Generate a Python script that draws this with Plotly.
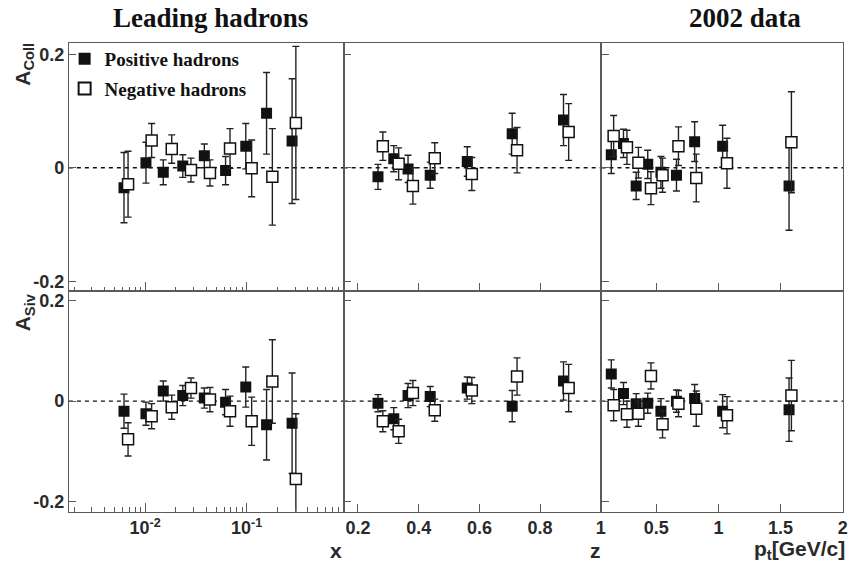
import plotly.graph_objects as go

# ---------------- data ----------------
# Collins asymmetry vs x
coll_x_pos_x = [0.0062, 0.0102, 0.0151, 0.0235, 0.0383, 0.062, 0.098, 0.157, 0.28]
coll_x_pos_y = [-0.035, 0.009, -0.008, 0.003, 0.021, -0.005, 0.038, 0.096, 0.047]
coll_x_pos_e = [0.062, 0.036, 0.022, 0.020, 0.021, 0.025, 0.040, 0.072, 0.110]
coll_x_neg_x = [0.0068, 0.0116, 0.0183, 0.0283, 0.0435, 0.0686, 0.112, 0.179, 0.305]
coll_x_neg_y = [-0.029, 0.048, 0.033, -0.004, -0.009, 0.034, -0.001, -0.016, 0.079]
coll_x_neg_e = [0.058, 0.030, 0.025, 0.021, 0.023, 0.035, 0.050, 0.085, 0.135]

# Sivers asymmetry vs x
siv_x_pos_y = [-0.020, -0.025, 0.020, 0.011, 0.006, -0.002, 0.028, -0.047, -0.044]
siv_x_pos_e = [0.034, 0.023, 0.020, 0.020, 0.020, 0.025, 0.040, 0.070, 0.100]
siv_x_neg_y = [-0.076, -0.030, -0.012, 0.026, 0.003, -0.020, -0.040, 0.039, -0.155]
siv_x_neg_e = [0.033, 0.025, 0.024, 0.020, 0.024, 0.030, 0.048, 0.083, 0.130]

# Collins asymmetry vs z
coll_z_pos_x = [0.266, 0.318, 0.365, 0.438, 0.560, 0.708, 0.877]
coll_z_pos_y = [-0.016, 0.016, -0.002, -0.013, 0.011, 0.060, 0.084]
coll_z_pos_e = [0.022, 0.023, 0.024, 0.023, 0.026, 0.036, 0.045]
coll_z_neg_x = [0.282, 0.334, 0.381, 0.453, 0.575, 0.724, 0.894]
coll_z_neg_y = [0.038, 0.007, -0.032, 0.017, -0.011, 0.031, 0.063]
coll_z_neg_e = [0.025, 0.028, 0.032, 0.027, 0.029, 0.040, 0.050]

# Sivers asymmetry vs z
siv_z_pos_y = [-0.004, -0.035, 0.011, 0.009, 0.026, -0.010, 0.040]
siv_z_pos_e = [0.017, 0.022, 0.024, 0.020, 0.022, 0.031, 0.038]
siv_z_neg_y = [-0.040, -0.060, 0.016, -0.018, 0.021, 0.049, 0.026]
siv_z_neg_e = [0.021, 0.024, 0.025, 0.022, 0.026, 0.037, 0.047]

# Collins asymmetry vs pt
coll_pt_pos_x = [0.139, 0.237, 0.339, 0.432, 0.538, 0.663, 0.809, 1.034, 1.568]
coll_pt_pos_y = [0.023, 0.043, -0.032, 0.006, -0.008, -0.013, 0.046, 0.038, -0.032]
coll_pt_pos_e = [0.033, 0.025, 0.024, 0.025, 0.028, 0.028, 0.035, 0.037, 0.078]
coll_pt_neg_x = [0.158, 0.265, 0.357, 0.458, 0.551, 0.679, 0.822, 1.069, 1.587]
coll_pt_neg_y = [0.056, 0.036, 0.009, -0.036, -0.013, 0.038, -0.018, 0.008, 0.045]
coll_pt_neg_e = [0.036, 0.030, 0.027, 0.029, 0.030, 0.034, 0.042, 0.044, 0.089]

# Sivers asymmetry vs pt
siv_pt_pos_y = [0.054, 0.015, -0.005, -0.004, -0.020, 0.000, 0.005, -0.020, -0.017]
siv_pt_pos_e = [0.028, 0.022, 0.020, 0.020, 0.025, 0.022, 0.028, 0.033, 0.063]
siv_pt_neg_y = [-0.008, -0.026, -0.025, 0.050, -0.046, -0.005, -0.015, -0.028, 0.011]
siv_pt_neg_e = [0.031, 0.026, 0.025, 0.026, 0.027, 0.026, 0.035, 0.037, 0.070]

# axis ticks / labels
y_tickvals = [-0.2, 0, 0.2]
y_ticktext = ["<b>-0.2</b>", "<b>0</b>", "<b>0.2</b>"]
x_log_tickvals = [0.01, 0.1]
x_log_ticktext = ["<b>10<sup>-2</sup></b>", "<b>10<sup>-1</sup></b>"]
x_log_minor = [m * d for d in (0.001, 0.01, 0.1) for m in range(2, 10)]
z_tickvals = [0.2, 0.4, 0.6, 0.8, 1.0]
z_ticktext = ["<b>0.2</b>", "<b>0.4</b>", "<b>0.6</b>", "<b>0.8</b>", "<b>1</b>"]
pt_tickvals = [0.5, 1.0, 1.5, 2.0]
pt_ticktext = ["<b>0.5</b>", "<b>1</b>", "<b>1.5</b>", "<b>2</b>"]

# ---------------- figure ----------------
W, H = 854, 565
AX = "#5a5a5a"
INK = "#111111"
TXT = "#2a2a2a"
SANS = "Liberation Sans, Arial, sans-serif"
SERIF = "Liberation Serif, Times New Roman, serif"

xdoms_px = [(69.3, 345.7), (345.7, 605.0), (605.0, 848.0)]
ydoms_px = [(42.0, 291.0), (291.0, 511.7)]

def xdom(i):
    a, b = xdoms_px[i]
    return [a / W, b / W]

def ydom(j):
    a, b = ydoms_px[j]
    return [1 - b / H, 1 - a / H]

fig = go.Figure()

panels = [
    (0, 0, coll_x_pos_x, coll_x_pos_y, coll_x_pos_e, coll_x_neg_x, coll_x_neg_y, coll_x_neg_e),
    (0, 1, coll_z_pos_x, coll_z_pos_y, coll_z_pos_e, coll_z_neg_x, coll_z_neg_y, coll_z_neg_e),
    (0, 2, coll_pt_pos_x, coll_pt_pos_y, coll_pt_pos_e, coll_pt_neg_x, coll_pt_neg_y, coll_pt_neg_e),
    (1, 0, coll_x_pos_x, siv_x_pos_y, siv_x_pos_e, coll_x_neg_x, siv_x_neg_y, siv_x_neg_e),
    (1, 1, coll_z_pos_x, siv_z_pos_y, siv_z_pos_e, coll_z_neg_x, siv_z_neg_y, siv_z_neg_e),
    (1, 2, coll_pt_pos_x, siv_pt_pos_y, siv_pt_pos_e, coll_pt_neg_x, siv_pt_neg_y, siv_pt_neg_e),
]

layout_axes = {}
shapes = []
for k, (r, c, px, py, pe, nx, ny, ne) in enumerate(panels):
    n = k + 1
    xa = "x" if n == 1 else f"x{n}"
    ya = "y" if n == 1 else f"y{n}"
    err_common = dict(type="data", color="#222222", thickness=1.4, width=3.5, visible=True)
    fig.add_trace(go.Scatter(
        x=px, y=py, mode="markers", name="Positive hadrons",
        legendgroup="pos", showlegend=(n == 1),
        marker=dict(symbol="square", size=11, color=INK, line=dict(width=0)),
        error_y=dict(array=pe, **err_common),
        xaxis=xa, yaxis=ya))
    fig.add_trace(go.Scatter(
        x=nx, y=ny, mode="markers", name="Negative hadrons",
        legendgroup="neg", showlegend=(n == 1),
        marker=dict(symbol="square", size=11, color="white", line=dict(width=1.5, color=INK)),
        error_y=dict(array=ne, **err_common),
        xaxis=xa, yaxis=ya))

    xkey = "xaxis" if n == 1 else f"xaxis{n}"
    ykey = "yaxis" if n == 1 else f"yaxis{n}"
    show_x_labels = (r == 1)
    common_x = dict(domain=xdom(c), anchor=ya, showline=True, mirror=True,
                    linecolor=AX, linewidth=1.1, showgrid=False, zeroline=False,
                    ticks="inside", tickcolor=AX, tickwidth=1.2,
                    showticklabels=show_x_labels,
                    tickfont=dict(family=SANS, size=18, color=TXT))
    if c == 0:
        common_x.update(type="log", range=[-2.75, -0.045], tickmode="array",
                        tickvals=x_log_tickvals, ticktext=x_log_ticktext, ticklen=9,
                        minor=dict(tickmode="array", tickvals=x_log_minor, ticks="inside",
                                   ticklen=4.5, tickcolor=AX, tickwidth=1.1))
    elif c == 1:
        common_x.update(range=[0.153, 1.002], tickmode="array",
                        tickvals=z_tickvals, ticktext=z_ticktext, ticklen=8)
    else:
        common_x.update(range=[0.06, 2.002], tickmode="array",
                        tickvals=pt_tickvals, ticktext=pt_ticktext, ticklen=8)
    layout_axes[xkey] = common_x

    yr = [-0.218, 0.22] if r == 0 else [-0.22, 0.218]
    layout_axes[ykey] = dict(domain=ydom(r), anchor=xa, range=yr, showline=True, mirror=True,
                             linecolor=AX, linewidth=1.1, showgrid=False, zeroline=False,
                             ticks="inside", ticklen=7, tickcolor=AX, tickwidth=1.2,
                             tickmode="array", tickvals=y_tickvals, ticktext=y_ticktext,
                             showticklabels=(c == 0),
                             tickfont=dict(family=SANS, size=18, color=TXT))

    shapes.append(dict(type="line", xref=f"{xa} domain", yref=ya, x0=0, x1=1, y0=0, y1=0,
                       line=dict(color=INK, width=1.4, dash="4px,4px"), layer="below"))

annotations = [
    dict(text="<b>Leading hadrons</b>", x=212 / W, y=1 - 17 / H, xref="paper", yref="paper",
         showarrow=False, xanchor="center", yanchor="middle",
         font=dict(family=SERIF, size=27, color="#111")),
    dict(text="<b>2002 data</b>", x=749 / W, y=1 - 17 / H, xref="paper", yref="paper",
         showarrow=False, xanchor="center", yanchor="middle",
         font=dict(family=SERIF, size=27, color="#111")),
    dict(text="<b>A<sub>Coll</sub></b>", x=24 / W, y=1 - 63 / H, xref="paper", yref="paper",
         showarrow=False, textangle=-90, xanchor="center", yanchor="middle",
         font=dict(family=SANS, size=21, color=TXT)),
    dict(text="<b>A<sub>Siv</sub></b>", x=25 / W, y=1 - 312 / H, xref="paper", yref="paper",
         showarrow=False, textangle=-90, xanchor="center", yanchor="middle",
         font=dict(family=SANS, size=21, color=TXT)),
    dict(text="<b>x</b>", x=338 / W, y=1 - 550 / H, xref="paper", yref="paper",
         showarrow=False, xanchor="center", yanchor="middle",
         font=dict(family=SANS, size=21, color=TXT)),
    dict(text="<b>z</b>", x=599 / W, y=1 - 550 / H, xref="paper", yref="paper",
         showarrow=False, xanchor="center", yanchor="middle",
         font=dict(family=SANS, size=21, color=TXT)),
    dict(text="<b>p<sub>t</sub>[GeV/c]</b>", x=852 / W, y=1 - 550 / H, xref="paper", yref="paper",
         showarrow=False, xanchor="right", yanchor="middle",
         font=dict(family=SANS, size=21, color=TXT)),
]

fig.update_layout(
    width=W, height=H, autosize=False,
    margin=dict(l=0, r=0, t=0, b=0),
    paper_bgcolor="white", plot_bgcolor="white",
    showlegend=True,
    legend=dict(x=65 / W, y=1 - 39 / H, xanchor="left", yanchor="top",
                bgcolor="rgba(0,0,0,0)", borderwidth=0, tracegroupgap=2,
                font=dict(family=SERIF, size=19, color="#111", weight="bold"),
                itemsizing="constant"),
    shapes=shapes,
    annotations=annotations,
    **layout_axes,
)

fig.write_html("out.html")
